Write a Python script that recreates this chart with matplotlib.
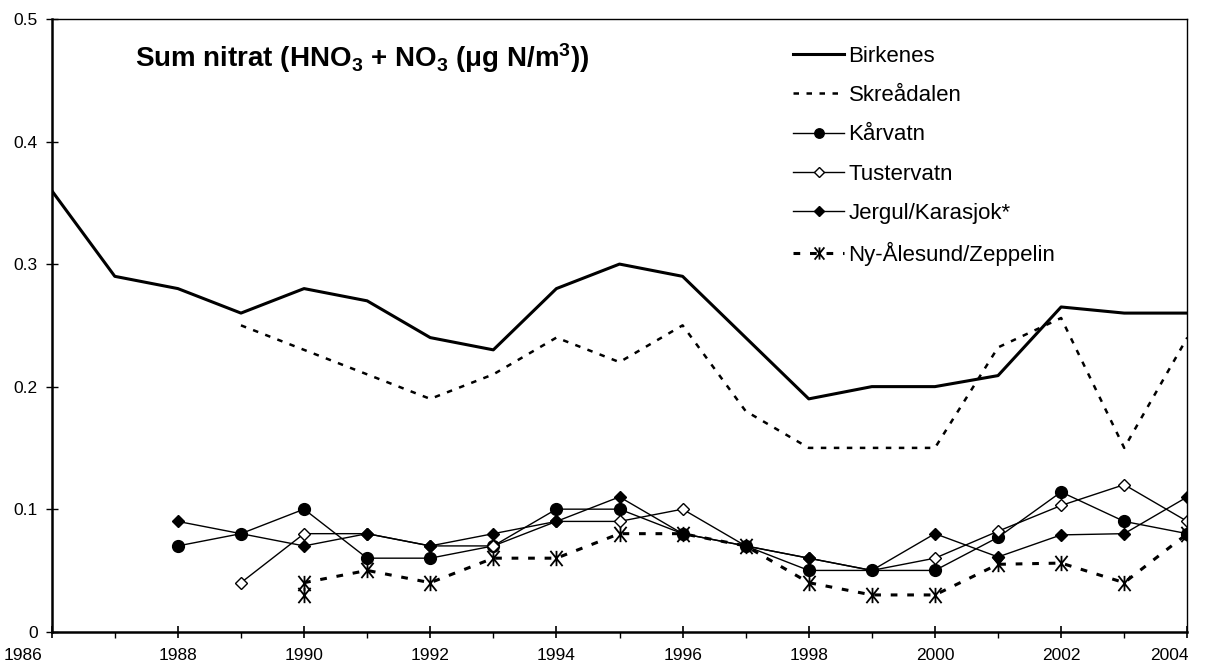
import matplotlib
matplotlib.use("Agg")
import matplotlib.pyplot as plt
from matplotlib.ticker import MultipleLocator, FuncFormatter
from matplotlib.path import Path
from matplotlib.transforms import ScaledTranslation

plt.rcParams['font.family'] = ['Liberation Sans', 'DejaVu Sans']
plt.rcParams['mathtext.fontset'] = 'custom'
plt.rcParams['mathtext.rm'] = 'Liberation Sans'
plt.rcParams['mathtext.bf'] = 'Liberation Sans:bold'
plt.rcParams['mathtext.it'] = 'Liberation Sans:italic'

# ---- data ----
years_birk = list(range(1986, 2005))
birkenes = [0.36, 0.29, 0.28, 0.26, 0.28, 0.27, 0.24, 0.23, 0.28, 0.30,
            0.29, 0.24, 0.19, 0.20, 0.20, 0.209, 0.265, 0.26, 0.26]

years_skre = list(range(1989, 2005))
skreadalen = [0.25, 0.23, 0.21, 0.19, 0.21, 0.24, 0.22, 0.25, 0.18, 0.15,
              0.15, 0.15, 0.232, 0.256, 0.15, 0.24]

years_karv = list(range(1988, 2005))
karvatn = [0.07, 0.08, 0.10, 0.06, 0.06, 0.07, 0.10, 0.10, 0.08, 0.07,
           0.05, 0.05, 0.05, 0.077, 0.114, 0.09, 0.08]

years_tust = list(range(1989, 2005))
tustervatn = [0.04, 0.08, 0.08, 0.07, 0.07, 0.09, 0.09, 0.10, 0.07, 0.06,
              0.05, 0.06, 0.082, 0.103, 0.12, 0.09]

years_jerg = list(range(1988, 2005))
jergul = [0.09, 0.08, 0.07, 0.08, 0.07, 0.08, 0.09, 0.11, 0.08, 0.07,
          0.06, 0.05, 0.08, 0.061, 0.079, 0.08, 0.11]

years_ny = list(range(1990, 2005))
nyalesund = [0.04, 0.05, 0.04, 0.06, 0.06, 0.08, 0.08, 0.07, 0.04, 0.03,
             0.03, 0.055, 0.056, 0.04, 0.08]
years_zep_extra = [1990]
zep_extra = [0.03]

labels = ['Birkenes', 'Skreådalen', 'Kårvatn', 'Tustervatn',
          'Jergul/Karasjok*', 'Ny-Ålesund/Zeppelin']
title = r'Sum nitrat (HNO$_\mathbf{3}$ + NO$_\mathbf{3}$ ($\mathbf{\mu}$g N/m$^\mathbf{3}$))'

# Excel-style asterisk: X with a vertical bar
ast = Path([(-0.8, -1), (0.8, 1), (-0.8, 1), (0.8, -1), (0, -1), (0, 1)],
           [Path.MOVETO, Path.LINETO, Path.MOVETO, Path.LINETO,
            Path.MOVETO, Path.LINETO])

W, H = 1217, 668
fig = plt.figure(figsize=(W / 100, H / 100), dpi=100)
ax = fig.add_axes([51.7 / W, 1 - 631.7 / H, (1187.3 - 51.7) / W, (631.7 - 19) / H])

l1, = ax.plot(years_birk, birkenes, color='black', lw=2.2)
l2, = ax.plot(years_skre, skreadalen, color='black', lw=1.8, dashes=(2.2, 3.0))
l3, = ax.plot(years_karv, karvatn, color='black', lw=1.0, marker='o', ms=8.5,
              mfc='black', mec='black')
l4, = ax.plot(years_tust, tustervatn, color='black', lw=1.0, marker='D', ms=6,
              mfc='white', mec='black', mew=1.0)
l5, = ax.plot(years_jerg, jergul, color='black', lw=1.0, marker='D', ms=6,
              mfc='black', mec='black')
l6, = ax.plot(years_ny, nyalesund, color='black', lw=2.2, dashes=(2.2, 3.2),
              marker=ast, ms=11, mew=1.3, mec='black', mfc='none')
ax.plot(years_zep_extra, zep_extra, ls='none', marker=ast, ms=11, mew=1.3,
        mec='black', mfc='none')

ax.set_xlim(1986, 2004)
ax.set_ylim(0, 0.5)
ax.xaxis.set_major_locator(MultipleLocator(2))
ax.xaxis.set_minor_locator(MultipleLocator(1))
ax.yaxis.set_major_locator(MultipleLocator(0.1))
ax.yaxis.set_major_formatter(FuncFormatter(
    lambda v, p: '0' if abs(v) < 1e-9 else f'{v:.1f}'))

ax.tick_params(axis='x', which='major', direction='inout', length=8, width=1.2,
               labelsize=12.5, pad=8)
ax.tick_params(axis='x', which='minor', direction='out', length=4, width=1.0)
ax.tick_params(axis='y', which='major', direction='inout', length=8, width=1.0,
               labelsize=12.5, pad=6)

for s in ['left', 'bottom']:
    ax.spines[s].set_linewidth(1.8)
for s in ['top', 'right']:
    ax.spines[s].set_linewidth(1.0)

# Excel pulls the edge labels inward
fig.canvas.draw()
for tick in ax.xaxis.get_major_ticks():
    lab = tick.label1
    if lab.get_text() == '1986':
        lab.set_transform(lab.get_transform() +
                          ScaledTranslation(-0.29, 0, fig.dpi_scale_trans))
    elif lab.get_text() == '2004':
        lab.set_transform(lab.get_transform() +
                          ScaledTranslation(-0.18, 0, fig.dpi_scale_trans))

fig.text(135 / W, 1 - 58 / H, title, fontsize=20, fontweight='bold',
         ha='left', va='center')

leg = fig.legend([l1, l2, l3, l4, l5, l6], labels,
                 loc='upper left', bbox_to_anchor=(793 / W, 1 - 46 / H),
                 frameon=False, fontsize=16, handlelength=2.3,
                 handletextpad=0.2, labelspacing=0.82, borderpad=0,
                 borderaxespad=0, markerscale=0.8)

fig.savefig('out.png', dpi=100)
